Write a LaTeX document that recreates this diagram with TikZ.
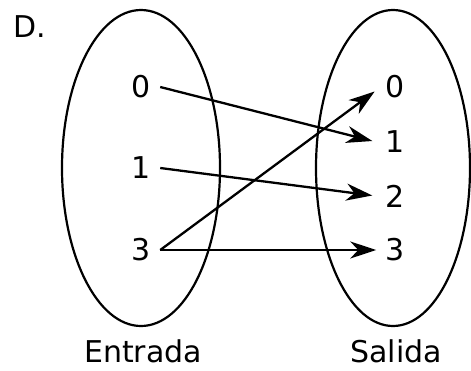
\documentclass[tikz,border=0pt]{standalone}
\usepackage{fontspec}
\setmainfont{DejaVu Sans}
\usetikzlibrary{shapes.geometric,arrows.meta}
\begin{document}
\begin{tikzpicture}[x=1pt,y=-1pt,
  lbl/.style={font=\fontsize{30}{32}\selectfont, inner xsep=9pt, inner ysep=2pt},
  setshape/.style={ellipse, draw, line width=2.2pt, inner sep=0pt},
  maparrow/.style={line width=2.3pt, -{Stealth[length=26pt,width=17pt,inset=8pt]}}]
\useasboundingbox (0,0) rectangle (471,370);
\node[setshape, minimum width=158pt, minimum height=316pt] (A) at (141,168) {};
\node[setshape, minimum width=154pt, minimum height=316pt] (B) at (393,168) {};
\node[lbl] (D) at (30,27) {D.};
\node[lbl] (l0) at (141.5,87) {0};
\node[lbl] (l1) at (141.5,168) {1};
\node[lbl] (l3) at (141.5,250) {3};
\node[lbl] (r0) at (395,87) {0};
\node[lbl] (r1) at (395,142) {1};
\node[lbl] (r2) at (395,196) {2};
\node[lbl] (r3) at (395,250) {3};
\node[lbl] (tin) at (143,351) {Entrada};
\node[lbl] (tout) at (396,351) {Salida};
\draw[maparrow, shorten >=4pt] (l0.east) -- (r1.west);
\draw[maparrow, shorten >=4pt] (l1.east) -- (r2.west);
\draw[maparrow] (l3.east) -- (r3.west);
\draw[maparrow, shorten >=2pt] (l3.east) -- (r0.-170);
\end{tikzpicture}
\end{document}
